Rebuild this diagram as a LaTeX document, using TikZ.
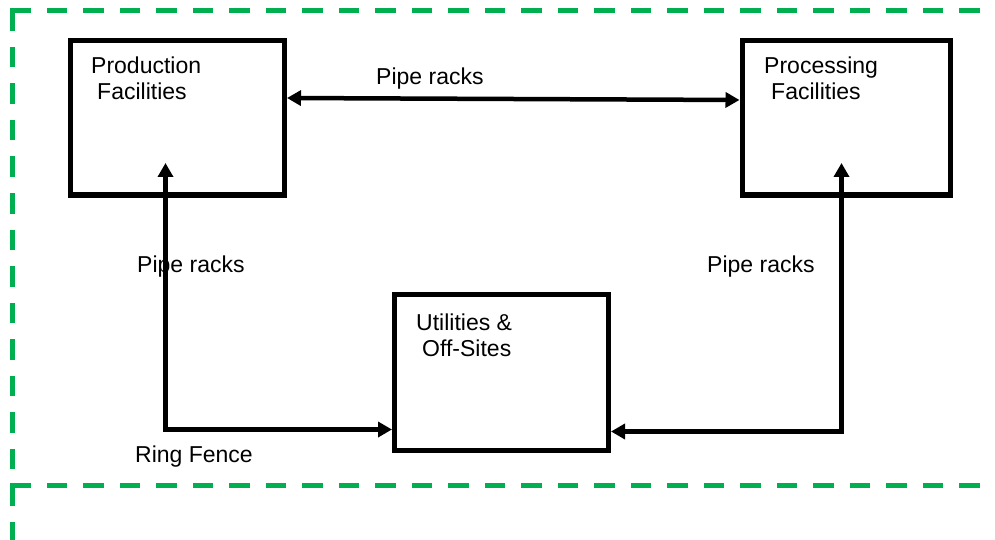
\documentclass[tikz,border=0pt]{standalone}
\usepackage{fontspec}
\setmainfont{Liberation Sans}
\usetikzlibrary{arrows.meta}
\definecolor{fencegreen}{RGB}{0,176,80}
\tikzset{
  fence/.style={draw=fencegreen, line width=4.5pt, dash pattern=on 20.5pt off 16pt},
  box/.style={draw=black, line width=5pt, rectangle, inner sep=0pt, fill=white},
  conn/.style={draw=black, line width=4.5pt, {Triangle[length=14pt,width=15pt]}-{Triangle[length=14pt,width=15pt]}},
  lbl/.style={anchor=base west, inner sep=0pt, font=\fontsize{23}{26}\selectfont}
}
\begin{document}
\begin{tikzpicture}[x=1pt,y=-1pt]
\useasboundingbox (0,0) rectangle (995,540);
\clip (0,0) rectangle (995,540);
\fill[white] (0,0) rectangle (995,540);
% ring fence frames
\coordinate (f1) at (12.5,10.5);
\coordinate (f2) at (12.5,485.5);
\draw[fence] ([xshift=-2.25pt]f1) -- (1000,10.5);
\draw[fence] (f1) -- (12.5,470);
\draw[fence] ([xshift=-2.25pt]f2) -- (1000,485.5);
\draw[fence] (f2) -- (12.5,545);
% boxes
\node[box, minimum width=214.5pt, minimum height=154pt] (prod) at (177.25,118) {};
\node[box, minimum width=208pt, minimum height=154pt] (proc) at (846,118) {};
\node[box, minimum width=214pt, minimum height=156pt] (util) at (501.5,372.5) {};
% box texts
\node[lbl] (prodA) at (91,74) {Production};
\node[lbl] (prodB) at (97,100) {Facilities};
\node[lbl] (procA) at (764,74) {Processing};
\node[lbl] (procB) at (771,100) {Facilities};
\node[lbl] (utilA) at (416,330) {Utilities \&};
\node[lbl] (utilB) at (422,356) {Off-Sites};
% connector labels
\node[lbl] (ltop) at (376,85) {Pipe racks};
\node[lbl] (lleft) at (137,272) {Pipe racks};
\node[lbl] (lright) at (707,272) {Pipe racks};
\node[lbl] (lring) at (135,462) {Ring Fence};
% connectors
\draw[conn] ([yshift=20pt]prod.east) -- ([yshift=18pt]proc.west);
\coordinate (ltip) at (165.5,163);
\coordinate (lc) at (165.5,429.5);
\coordinate (rtip) at (841.5,163);
\coordinate (rc) at (841.5,431.5);
\draw[conn] (ltip) |- (util.west |- lc);
\draw[conn] (rtip) |- (util.east |- rc);
\end{tikzpicture}
\end{document}
